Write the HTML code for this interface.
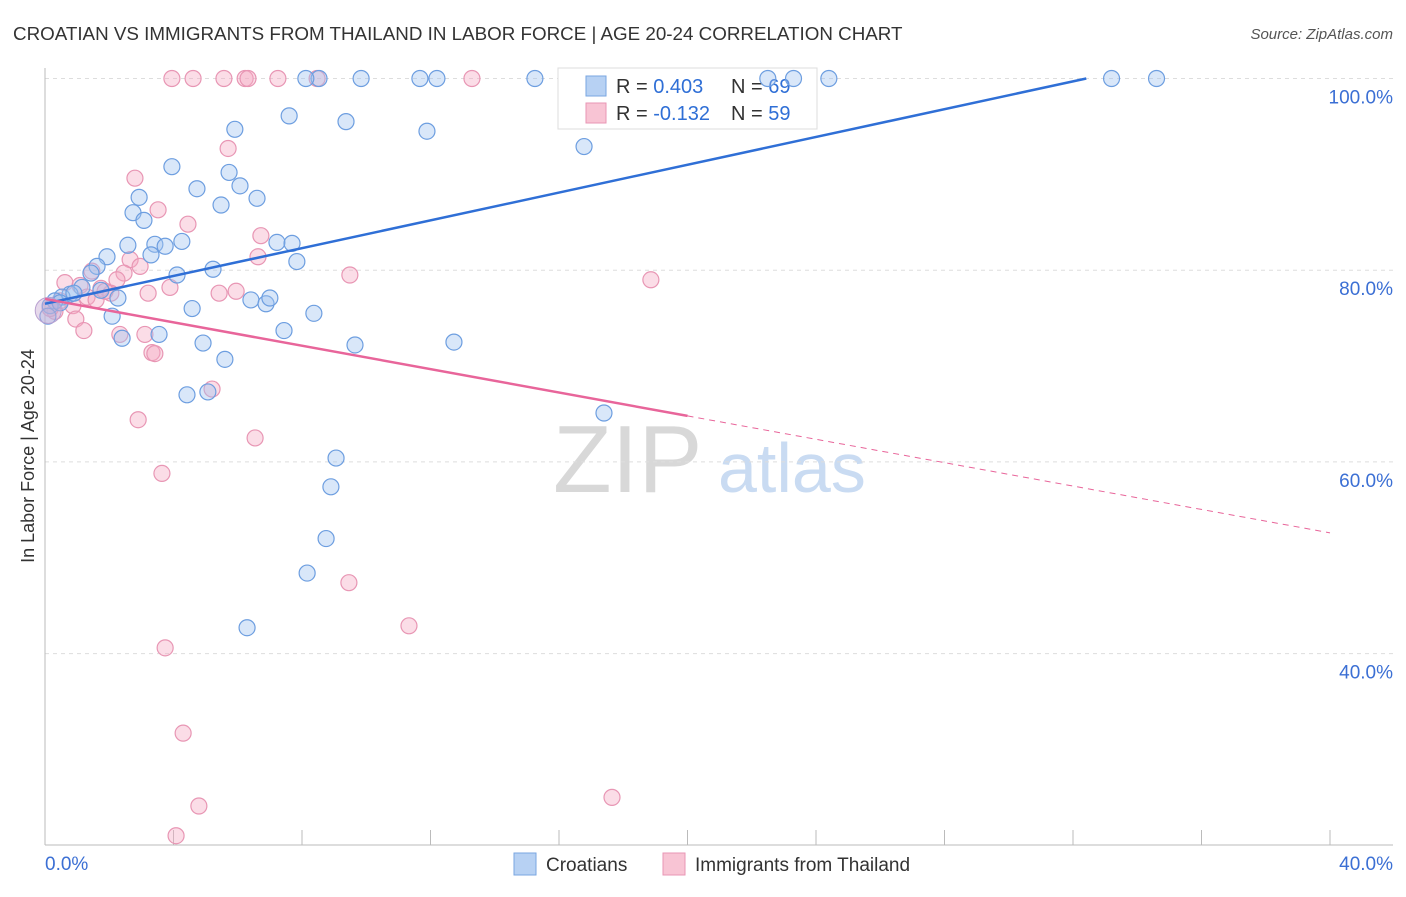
<!DOCTYPE html>
<html><head><meta charset="utf-8"><style>
body{margin:0;background:#fff;font-family:"Liberation Sans",sans-serif;}
svg text{font-family:"Liberation Sans",sans-serif;}
</style></head><body>
<svg id="chart" width="1406" height="892">
<text x="13" y="40" font-size="18.8" fill="#333">CROATIAN VS IMMIGRANTS FROM THAILAND IN LABOR FORCE | AGE 20-24 CORRELATION CHART</text>
<text x="1393" y="39" font-size="15" fill="#555" text-anchor="end" font-style="italic">Source: ZipAtlas.com</text>
<g>
<text x="553" y="492" font-size="96" fill="#d8d8d8" font-family="Liberation Serif">ZIP</text>
<text x="718" y="492" font-size="70" fill="#c9dbf2">atlas</text>
</g>
<g id="grid"></g><g id="axes"></g>
<g>
<rect x="558" y="68" width="259" height="61" fill="#fff" stroke="#ddd"/>
<rect x="586" y="76" width="20" height="20" fill="#b7d1f3" stroke="#7aa6e0"/>
<text x="616" y="93" font-size="20" fill="#333">R = <tspan fill="#2f6fd6">0.403</tspan></text>
<text x="731" y="93" font-size="20" fill="#333">N = <tspan fill="#2f6fd6">69</tspan></text>
<rect x="586" y="103" width="20" height="20" fill="#f8c4d4" stroke="#e896b4"/>
<text x="616" y="120" font-size="20" fill="#333">R = <tspan fill="#2f6fd6">-0.132</tspan></text>
<text x="731" y="120" font-size="20" fill="#333">N = <tspan fill="#2f6fd6">59</tspan></text>
</g>
<g id="pts"></g><g id="lines"></g>
<g>
<rect x="514" y="853" width="22" height="22" fill="#b7d1f3" stroke="#7aa6e0"/>
<text x="546" y="871" font-size="19" fill="#333">Croatians</text>
<rect x="663" y="853" width="22" height="22" fill="#f8c4d4" stroke="#e896b4"/>
<text x="695" y="871" font-size="19" fill="#333">Immigrants from Thailand</text>
</g>
<text transform="translate(34,456) rotate(-90)" font-size="18" fill="#333" text-anchor="middle">In Labor Force | Age 20-24</text>
</svg>
<script>
const yTicks=[100,80,60,40];
const yTickLabels=["100.0%","80.0%","60.0%","40.0%"];
const xEndLabels=["0.0%","40.0%"];
const blueX=[8.53,9.84,11.67,12.2,15.25,8.12,22.5,23.3,24.4,33.2,34.6,5.91,7.6,9.37,11.89,16.78,3.95,4.73,5.73,6.07,5.48,6.6,2.93,2.74,3.08,2.58,3.42,3.74,4.26,3.3,7.22,7.69,7.84,5.23,4.11,1.93,1.62,1.43,2.27,1.15,0.78,0.53,0.31,0.16,0.09,2.09,4.58,6.41,6.88,7.0,8.37,2.4,3.55,4.92,5.6,7.44,9.65,12.73,4.42,5.07,17.4,9.06,8.9,8.75,8.16,6.29,0.9,1.74,0.47];
const blueY=[100,100,100,100,100,100,100,100,100,100,100,94.7,96.1,95.5,94.5,92.9,90.8,88.5,90.2,88.8,86.8,87.5,87.6,86.0,85.2,82.6,82.7,82.5,83.0,81.6,82.9,82.8,80.9,80.1,79.5,81.4,80.4,79.7,77.1,78.2,77.5,77.2,76.8,76.3,75.2,75.2,76.0,76.9,76.5,77.1,75.5,72.9,73.3,72.4,70.7,73.7,72.2,72.5,67.0,67.3,65.1,60.4,57.4,52.0,48.4,42.7,77.6,77.9,76.6];
const pinkX=[3.95,4.61,5.57,6.23,6.32,7.25,8.47,13.29,5.7,2.8,3.52,4.45,6.72,6.63,2.65,2.96,2.46,2.24,1.46,0.62,1.09,1.74,2.05,3.21,3.89,5.42,5.95,9.49,18.86,1.31,1.59,0.87,0.31,0.16,0.96,1.21,2.33,3.11,3.33,3.42,5.2,2.9,6.54,3.64,9.46,11.33,3.74,4.3,4.79,17.65,4.08,1.87,0.47];
const pinkY=[100,100,100,100,100,100,100,100,92.7,89.6,86.3,84.8,83.6,81.4,81.1,80.4,79.7,79.0,79.9,78.7,78.4,78.1,77.6,77.6,78.2,77.6,77.8,79.5,79.0,77.2,76.9,76.3,75.7,76.0,74.9,73.7,73.3,73.3,71.4,71.3,67.6,64.4,62.5,58.8,47.4,42.9,40.6,31.7,24.1,25.0,21.0,77.8,76.8];
const blueFit=[76.5,0.725];
const pinkFit=[77.0,-0.61];
const X0=45,XS=32.125,Y0=1037,YS=9.585;
const sx=v=>X0+v*XS, sy=v=>Y0-v*YS;
const NS="http://www.w3.org/2000/svg";
function mk(p,t,a){const e=document.createElementNS(NS,t);for(const k in a)e.setAttribute(k,a[k]);p.appendChild(e);return e;}
const grid=document.getElementById('grid'),axes=document.getElementById('axes'),pts=document.getElementById('pts'),lines=document.getElementById('lines');
yTicks.forEach((t,i)=>{
 const l=mk(grid,'line',{x1:45,x2:1393,y1:sy(t),y2:sy(t),stroke:'#ddd','stroke-dasharray':'4,4'});
 
 
 const tx=mk(axes,'text',{x:1393,y:sy(t)+25,'font-size':19,fill:'#3b6fd4','text-anchor':'end'});tx.textContent=yTickLabels[i];
 
 
});
const ax=mk(axes,'line',{x1:45,x2:45,y1:68,y2:845,stroke:'#bbb'});


const bx=mk(axes,'line',{x1:45,x2:1393,y1:845,y2:845,stroke:'#bbb'});


for(let i=0;i<=10;i++){const t=mk(axes,'line',{x1:sx(i*4),x2:sx(i*4),y1:830,y2:845,stroke:'#bbb'});
 
 }
const xl0=mk(axes,'text',{x:45,y:870,'font-size':19,fill:'#3b6fd4'});xl0.textContent=xEndLabels[0];


const xl1=mk(axes,'text',{x:1393,y:870,'font-size':19,fill:'#3b6fd4','text-anchor':'end'});xl1.textContent=xEndLabels[1];


function dots(X,Y,fill,stroke,name){X.forEach((x,i)=>{const c=mk(pts,'circle',{cx:sx(x),cy:sy(Y[i]),r:8,fill:fill,stroke:stroke,'stroke-width':1.2});
 
 });}
dots(pinkX,pinkY,'rgba(245,170,195,0.4)','#e896b4','pink-point');
dots(blueX,blueY,'rgba(160,195,240,0.4)','#6d9ee0','blue-point');
const big=mk(pts,'circle',{cx:sx(0.1),cy:sy(75.8),r:13,fill:'rgba(200,170,210,0.45)',stroke:'#b9a0d0'});


const bxEnd=(100-blueFit[0])/blueFit[1];
const bl=mk(lines,'line',{x1:sx(0),y1:sy(blueFit[0]),x2:sx(bxEnd),y2:sy(100),stroke:'#2f6fd6','stroke-width':2.5});


const pl=mk(lines,'line',{x1:sx(0),y1:sy(pinkFit[0]),x2:sx(20),y2:sy(pinkFit[0]+pinkFit[1]*20),stroke:'#e8659a','stroke-width':2.5});


const pd=mk(lines,'line',{x1:sx(20),y1:sy(pinkFit[0]+pinkFit[1]*20),x2:sx(40),y2:sy(pinkFit[0]+pinkFit[1]*40),stroke:'#e8659a','stroke-width':1,'stroke-dasharray':'6,5'});


</script>
</body></html>
